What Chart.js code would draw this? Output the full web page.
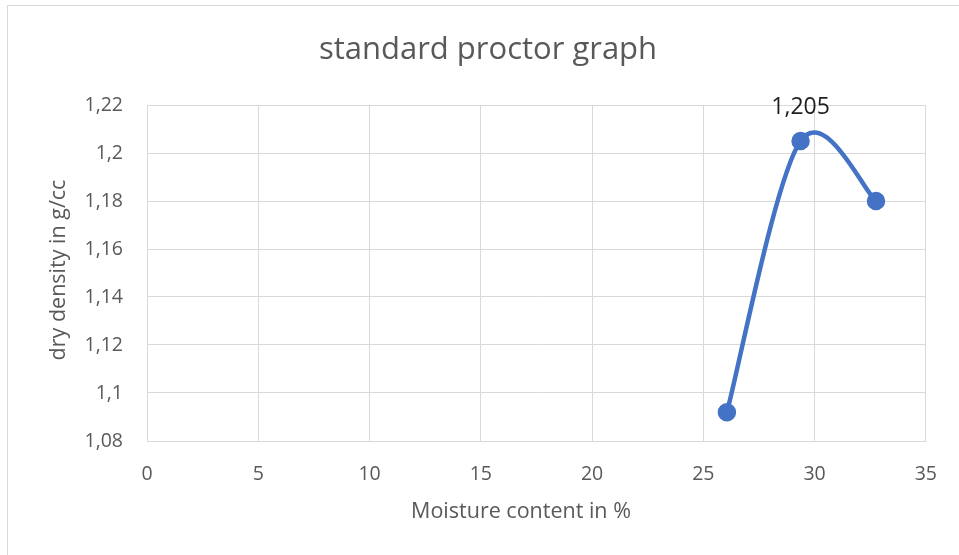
<!DOCTYPE html>
<html>
<head>
<meta charset="utf-8">
<script src="https://cdn.jsdelivr.net/npm/chart.js@4/dist/chart.umd.min.js"></script>
<style>
  html, body { margin: 0; padding: 0; background: #fff; }
  #wrap { width: 959px; height: 555px; position: relative; }
</style>
</head>
<body>
<div id="wrap"><canvas id="proctorChart"></canvas></div>
<script>
const moisture = [26.06, 29.37, 32.76];
const dryDensity = [1.092, 1.205, 1.18];
const labelledPoint = 1;
const labelText = '1,205';

const chartTitle = 'standard proctor graph';
const xTitle = 'Moisture content in %';
const yTitle = 'dry density in g/cc';

const fontFamily = '"Open Sans", sans-serif';
const grey = '#595959';
const gridColor = '#D9D9D9';

// Excel-like smoothing: control points at 1/6 of the neighbour chord
const excelSmooth = {
    id: 'excelSmooth',
    beforeDatasetsDraw(chart) {
        const meta = chart.getDatasetMeta(0);
        const line = meta.dataset;
        const pts = meta.data;
        if (!line || pts.length < 2) return;
        line.updateControlPoints(chart.chartArea);
        const n = pts.length;
        for (let i = 0; i < n; i++) {
            const prev = pts[Math.max(i - 1, 0)];
            const next = pts[Math.min(i + 1, n - 1)];
            const dx = (next.x - prev.x) / 6;
            const dy = (next.y - prev.y) / 6;
            pts[i].cp1x = pts[i].x - dx;
            pts[i].cp1y = pts[i].y - dy;
            pts[i].cp2x = pts[i].x + dx;
            pts[i].cp2y = pts[i].y + dy;
        }
        line._path = undefined;
    }
};

const decorations = {
    id: 'decorations',
    beforeDraw(chart) {
        const ctx = chart.ctx;
        ctx.save();
        ctx.fillStyle = '#fff';
        ctx.fillRect(0, 0, chart.width, chart.height);
        ctx.strokeStyle = gridColor;
        ctx.lineWidth = 1;
        ctx.strokeRect(7.5, 5.5, 1200, 1200);
        ctx.restore();
    },
    afterDraw(chart) {
        const ctx = chart.ctx;
        ctx.save();
        ctx.fillStyle = grey;
        ctx.textAlign = 'center';
        ctx.textBaseline = 'middle';
        ctx.font = '31px ' + fontFamily;
        ctx.fillText(chartTitle, 488, 50);

        ctx.font = '21.5px ' + fontFamily;
        ctx.fillText(xTitle, 521, 512);

        ctx.translate(59, 270);
        ctx.rotate(-Math.PI / 2);
        ctx.fillText(yTitle, 0, 0);
        ctx.restore();

        const pt = chart.getDatasetMeta(0).data[labelledPoint];
        if (pt) {
            ctx.save();
            ctx.fillStyle = '#1f1f1f';
            ctx.font = '23px ' + fontFamily;
            ctx.textAlign = 'center';
            ctx.textBaseline = 'middle';
            ctx.fillText(labelText, pt.x, pt.y - 34);
            ctx.restore();
        }
    }
};

const fmt = v => Number(Number(v).toFixed(2)).toString().replace('.', ',');

new Chart(document.getElementById('proctorChart'), {
    type: 'scatter',
    data: {
        datasets: [{
            data: moisture.map((x, i) => ({ x: x, y: dryDensity[i] })),
            showLine: true,
            borderColor: '#4472C4',
            backgroundColor: '#4472C4',
            borderWidth: 4.5,
            pointRadius: 7,
            pointHoverRadius: 7,
            tension: 0.4
        }]
    },
    options: {
        responsive: true,
        maintainAspectRatio: false,
        animation: false,
        layout: { padding: { left: 8, top: 105, right: 32, bottom: 0 } },
        plugins: {
            legend: { display: false },
            tooltip: { enabled: false }
        },
        scales: {
            x: {
                type: 'linear',
                min: 0,
                max: 35,
                ticks: {
                    stepSize: 5,
                    padding: 22,
                    color: grey,
                    font: { family: fontFamily, size: 19.5 },
                    maxRotation: 0,
                    callback: v => fmt(v)
                },
                grid: { color: gridColor, lineWidth: 1, drawTicks: false },
                border: { color: gridColor },
                afterFit(scale) { scale.height = 114; }
            },
            y: {
                min: 1.08,
                max: 1.22,
                ticks: {
                    stepSize: 0.02,
                    padding: 24,
                    color: grey,
                    font: { family: fontFamily, size: 19.5 },
                    callback: v => fmt(v)
                },
                grid: { color: gridColor, lineWidth: 1, drawTicks: false },
                border: { color: gridColor },
                afterFit(scale) { scale.width = 139; }
            }
        }
    },
    plugins: [excelSmooth, decorations]
});
</script>
</body>
</html>
